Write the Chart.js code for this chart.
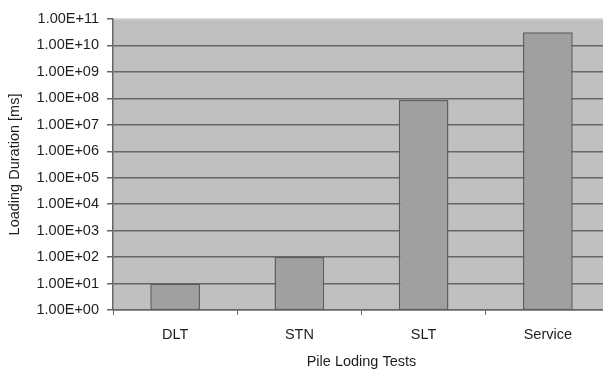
<!DOCTYPE html>
<html>
<head>
<meta charset="utf-8">
<script src="https://cdn.jsdelivr.net/npm/chart.js@4/dist/chart.umd.min.js"></script>
<style>
  html, body { margin: 0; padding: 0; background: #ffffff; overflow: hidden; }
  #wrap { width: 612px; height: 369px; }
</style>
</head>
<body>
<div id="wrap"><canvas id="c" width="612" height="369"></canvas></div>
<script>
// Pile loading test categories and their loading durations (ms)
const categories = ['DLT', 'STN', 'SLT', 'Service'];
const durations = [10, 100, 8.64e7, 3.15e10];
// Decade ticks on the logarithmic duration axis
const yTicks = [1, 10, 100, 1e3, 1e4, 1e5, 1e6, 1e7, 1e8, 1e9, 1e10, 1e11];

const FONT = { family: '"Liberation Sans", Arial, sans-serif', size: 14.5 };
const TITLE_FONT = { family: '"Liberation Sans", Arial, sans-serif', size: 14.5, lineHeight: 1 };
const TEXT = '#1e1e1e';
const GRID = '#666666';

// Formats a value as "1.00E+11"
function sci(v) {
  const e = Math.round(Math.log10(v));
  const m = v / Math.pow(10, e);
  const sign = e < 0 ? '-' : '+';
  const ex = String(Math.abs(e)).padStart(2, '0');
  return m.toFixed(2) + 'E' + sign + ex;
}

// Grey plot-area fill behind the bars
const plotBg = {
  id: 'plotBg',
  beforeDraw(chart) {
    const { ctx, chartArea: a } = chart;
    ctx.save();
    ctx.fillStyle = '#c0c0c0';
    ctx.fillRect(a.left, a.top, a.right - a.left, a.bottom - a.top);
    ctx.restore();
  }
};

new Chart(document.getElementById('c'), {
  type: 'bar',
  data: {
    labels: categories,
    datasets: [{
      data: durations,
      backgroundColor: '#a0a0a0',
      borderColor: '#5e5e5e',
      borderWidth: 1.5,
      borderSkipped: false,
      barPercentage: 0.4,
      categoryPercentage: 1.0
    }]
  },
  options: {
    responsive: false,
    animation: false,
    layout: { padding: { top: 19, right: 2, left: 0, bottom: 0 } },
    plugins: { legend: { display: false }, tooltip: { enabled: false } },
    scales: {
      x: {
        offset: true,
        grid: {
          offset: true,
          drawOnChartArea: false,
          drawTicks: true,
          tickLength: 5,
          color: GRID,
          lineWidth: 1
        },
        border: { display: true, color: GRID, width: 1.5 },
        ticks: { color: TEXT, font: FONT, padding: 11, maxRotation: 0 },
        title: {
          display: true,
          text: 'Pile Loding Tests',
          color: TEXT,
          font: TITLE_FONT,
          padding: { top: 0, bottom: 0 }
        },
        afterFit(scale) { scale.height = 59; }
      },
      y: {
        type: 'logarithmic',
        min: 1,
        max: 1e11,
        afterBuildTicks(scale) {
          scale.ticks = yTicks.map(v => ({ value: v, major: true }));
        },
        grid: {
          color: ctx => (ctx.tick && ctx.tick.value === 1e11) ? '#dcdcdc' : GRID,
          tickColor: GRID,
          lineWidth: 1.5,
          tickLength: 6,
          drawTicks: true
        },
        border: { display: true, color: GRID, width: 1.5 },
        ticks: {
          color: TEXT,
          font: FONT,
          padding: 8,
          autoSkip: false,
          callback: v => sci(v)
        },
        title: {
          display: true,
          text: 'Loading Duration [ms]',
          color: TEXT,
          font: FONT,
          padding: { top: 6, bottom: 0 }
        },
        afterFit(scale) { scale.width = 113; }
      }
    }
  },
  plugins: [plotBg]
});
</script>
</body>
</html>
